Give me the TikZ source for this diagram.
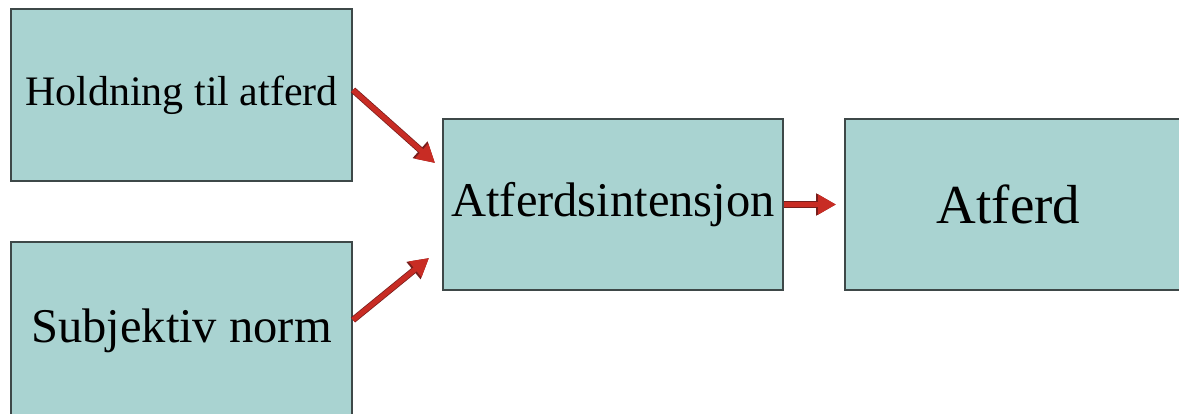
\documentclass[tikz,border=0pt]{standalone}
\usepackage{fontspec}
\setmainfont{Liberation Serif}
\usetikzlibrary{arrows.meta}
\definecolor{boxfill}{RGB}{169,211,209}
\definecolor{boxline}{RGB}{62,72,72}
\definecolor{arrowred}{RGB}{200,44,36}
\definecolor{arrowdark}{RGB}{120,30,28}

\begin{document}
\begin{tikzpicture}
  [x=1pt,y=1pt,every node/.style={rectangle,draw=boxline,line width=2pt,fill=boxfill,inner sep=0pt}]
 \tikzset{EdgeStyle/.style={arrowred,line width=5pt,-{Triangle[length=18pt,width=19pt]},
   preaction={draw=arrowdark,line width=6.5pt,-{Triangle[length=20pt,width=21pt]}}}}
  \useasboundingbox (0,0) rectangle (1179,413);

  \node[minimum width=341,minimum height=172,font=\fontsize{42}{48}\selectfont] (hold) at (181.5,318) {\raisebox{-3pt}{Holdning til atferd}};
  \node[minimum width=341,minimum height=183,font=\fontsize{48.5}{56}\selectfont] (norm) at (181.5,79.5) {\raisebox{16pt}{Subjektiv norm}};
  \node[minimum width=340,minimum height=171,font=\fontsize{48.5}{56}\selectfont] (intens) at (613,208.5) {Atferdsintensjon};
  \node[minimum width=345,minimum height=171,font=\fontsize{55}{62}\selectfont] (atferd) at (1017.5,208.5) {\hspace*{-18pt}Atferd};

  \draw[EdgeStyle] ([yshift=5]hold.east) -- ([xshift=-7,yshift=41.5]intens.west);
  \draw[EdgeStyle] ([yshift=13.5]norm.east) -- ([xshift=-13,yshift=-53.5]intens.west);
  \draw[EdgeStyle] (intens.east) -- ([xshift=-8]atferd.west);

\end{tikzpicture}
\end{document}
